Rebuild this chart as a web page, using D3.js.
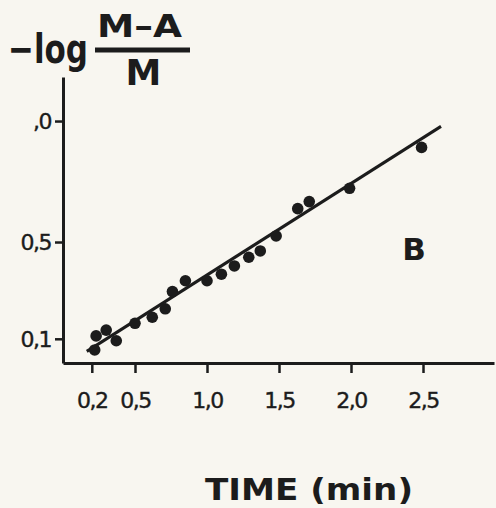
<!DOCTYPE html>
<html><head><meta charset="utf-8">
<script src="https://cdn.jsdelivr.net/npm/d3@7"></script>
<style>
html,body{margin:0;padding:0;background:#f8f6f0;}
svg{display:block;}
</style></head>
<body>
<script>
// ---- data ----
const timeMin = [0.22,0.23,0.30,0.37,0.50,0.62,0.71,0.76,0.85,1.00,1.10,1.19,1.29,1.37,1.48,1.63,1.71,1.99,2.49];
const logRatio = [0.054,0.112,0.136,0.092,0.164,0.189,0.224,0.295,0.340,0.340,0.367,0.401,0.437,0.463,0.525,0.638,0.667,0.722,0.891];
const fitX = [0.165, 2.625];
const fitY = [0.048, 0.978];
const xTickValues = [0.2,0.5,1.0,1.5,2.0,2.5];
const xTickLabels = ["0,2","0,5","1,0","1,5","2,0","2,5"];
const yTickValues = [1.0,0.5,0.1];
const yTickLabels = [",0","0,5","0,1"];
const xTitle = "TIME (min)";
const panelLabel = "B";

const W=496,H=508, ink="#1c1c1c";
const svg=d3.select("body").append("svg").attr("width",W).attr("height",H);
svg.append("rect").attr("width",W).attr("height",H).attr("fill","#f8f6f0");

const x=d3.scaleLinear().domain([0,2.993]).range([63,494]);
const y=d3.scaleLinear().domain([0,1.182]).range([363,77]);

const font="DejaVu Sans, sans-serif";

// axes
const xa=svg.append("g").attr("transform","translate(0,363)")
 .call(d3.axisBottom(x).tickValues(xTickValues).tickFormat((d,i)=>xTickLabels[i]).tickSizeOuter(0).tickSizeInner(10).tickPadding(19));
const ya=svg.append("g").attr("transform","translate(63,0)")
 .call(d3.axisLeft(y).tickValues(yTickValues).tickFormat((d,i)=>yTickLabels[i]).tickSizeOuter(0).tickSizeInner(8).tickPadding(4));
[xa,ya].forEach(g=>{
  g.select(".domain").attr("stroke",ink).attr("stroke-width",3);
  g.selectAll(".tick line").attr("stroke",ink).attr("stroke-width",2.5);
  g.selectAll(".tick text").attr("fill",ink).attr("font-family",font).attr("font-size",22)
   .attr("letter-spacing",-1.5).attr("stroke",ink).attr("stroke-width",0.4);
});
xa.selectAll(".tick text").attr("dy","0.71em");
ya.selectAll(".tick text").attr("dy","0.36em");

// fit line
svg.append("line")
 .attr("x1",x(fitX[0])).attr("y1",y(fitY[0]))
 .attr("x2",x(fitX[1])).attr("y2",y(fitY[1]))
 .attr("stroke",ink).attr("stroke-width",3);

// points
svg.append("g").selectAll("circle").data(timeMin.map((t,i)=>[t,logRatio[i]])).join("circle")
 .attr("cx",d=>x(d[0])).attr("cy",d=>y(d[1])).attr("r",5.8).attr("fill",ink);

// y title: -log (M-A)/M
svg.append("text").attr("x",8).attr("y",63).attr("font-family",font).attr("font-weight","bold")
 .attr("font-size",40).attr("textLength",80).attr("lengthAdjust","spacingAndGlyphs").attr("fill",ink).text("\u2212log");
svg.append("text").attr("x",97).attr("y",37).attr("font-family",font).attr("font-weight","bold")
 .attr("font-size",32).attr("textLength",85).attr("lengthAdjust","spacingAndGlyphs").attr("fill",ink).text("M\u2013A");
svg.append("line").attr("x1",95).attr("x2",190).attr("y1",50).attr("y2",50).attr("stroke",ink).attr("stroke-width",5);
svg.append("text").attr("x",143.5).attr("y",85).attr("text-anchor","middle").attr("font-family",font).attr("font-weight","bold")
 .attr("font-size",36).attr("fill",ink).text("M");

// panel label
svg.append("text").attr("x",414).attr("y",260).attr("text-anchor","middle").attr("font-family",font).attr("font-weight","bold")
 .attr("font-size",31).attr("fill",ink).text(panelLabel);

// x title
svg.append("text").attr("x",205).attr("y",500).attr("font-family",font).attr("font-weight","bold")
 .attr("font-size",31).attr("textLength",208).attr("lengthAdjust","spacingAndGlyphs").attr("fill",ink).text(xTitle);
</script>
</body></html>
